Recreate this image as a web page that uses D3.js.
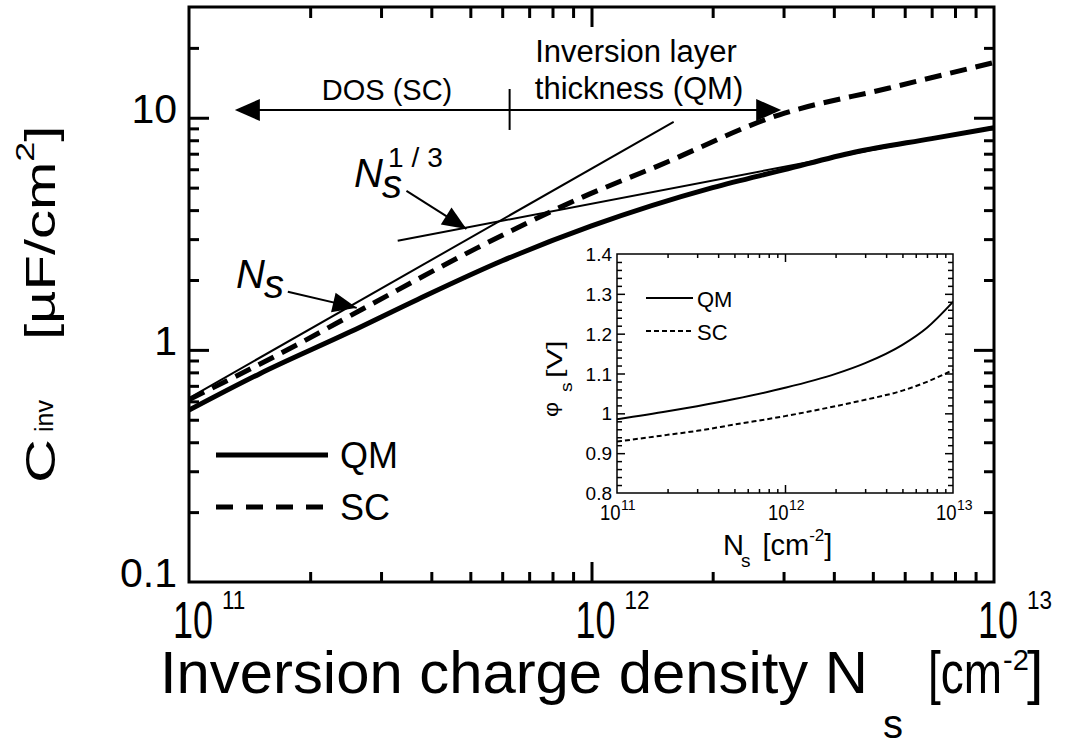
<!DOCTYPE html>
<html>
<head>
<meta charset="utf-8">
<script src="https://cdn.jsdelivr.net/npm/d3@7"></script>
<style>
  body { margin: 0; background: #fff; }
  svg { display: block; }
  text { font-family: "Liberation Sans", Arial, Helvetica, sans-serif; fill: #000; }
</style>
</head>
<body>
<svg id="chart" width="1065" height="749"></svg>
<script>
// ---- data -------------------------------------------------------------
// inversion capacitance C_inv [uF/cm^2] vs inversion charge density N_s [cm^-2]
const nsQM   = [1e11, 1.5e11, 2.5e11, 3.7e11, 6e11, 1e12, 2e12, 3e12, 4.5e12, 7e12, 1e13];
const cinvQM = [0.55, 0.79, 1.19, 1.65, 2.42, 3.42, 5.0, 5.96, 7.1, 8.13, 9.06];
const nsSC   = [1e11, 1.85e11, 2.7e11, 5.2e11, 9.5e11, 1.45e12, 2.93e12, 5.46e12, 1e13];
const cinvSC = [0.61, 1.05, 1.50, 2.75, 4.55, 6.16, 10.3, 13.4, 17.3];

// guide lines: C ~ N_s and C ~ N_s^(1/3)
const nsLin   = [1e11, 1.6e12];
const cinvLin = [0.62, 9.6];
const nsCube   = [3.3e11, 1e13];
const cinvCube = [2.95, 9.15];

// inset: surface potential phi_s [V]
const nsPhi = [1e11, 2e11, 3e11, 5e11, 1e12, 2e12, 3e12, 5e12, 7e12, 1e13];
const phiQM = [0.985, 1.005, 1.018, 1.036, 1.064, 1.099, 1.126, 1.172, 1.215, 1.28];
const phiSC = [0.929, 0.946, 0.956, 0.972, 0.993, 1.018, 1.034, 1.057, 1.079, 1.109];

// axis tick labels
const yTickVals = [0.1, 1, 10];
const yTickText = ["0.1", "1", "10"];
const xTickVals = [1e11, 1e12, 1e13];
const xTickExp  = ["11", "12", "13"];
const insetYVals = [0.8, 0.9, 1.0, 1.1, 1.2, 1.3, 1.4];
const insetYText = ["0.8", "0.9", "1", "1.1", "1.2", "1.3", "1.4"];

// annotation anchors in data units [N_s, C]
const rangeArrow = { left: 1.30e11, right: 2.96e12, level: 10.8, split: 6.26e11, splitTop: 13.3, splitBottom: 8.86 };
const cubeArrow = [[3.47e11, 4.84], [4.89e11, 3.32]];
const linArrow  = [[1.76e11, 1.78], [2.61e11, 1.517]];

// ---- scales -----------------------------------------------------------
const svg = d3.select("#chart");
const F = { left: 189, right: 994, top: 7, bottom: 582 };
const x = d3.scaleLog().domain([1e11, 1e13]).range([F.left, F.right]);
const y = d3.scaleLog().domain([0.1, 30]).range([F.bottom, F.top]);

const I = { left: 617, right: 953, top: 254, bottom: 493 };
const xi = d3.scaleLog().domain([1e11, 1e13]).range([I.left, I.right]);
const yi = d3.scaleLinear().domain([0.8, 1.4]).range([I.bottom, I.top]);

function minorLog(lo, hi) {
  const out = [];
  for (let d = lo; d < hi * 0.999; d *= 10)
    for (let k = 2; k <= 9; k++) { const v = +(k * d).toPrecision(6); if (v < hi * 0.999) out.push(v); }
  return out;
}

// text helper: a group placed at (tx,ty) with independent x/y glyph scaling
function label(parent, tx, ty, sx, sy, rot) {
  const g = parent.append("g")
    .attr("transform", `translate(${tx},${ty})` + (rot ? ` rotate(${rot})` : "") + ` scale(${sx},${sy})`);
  return g.append("text");
}

// ---- main axes ---------------------------------------------------------
const axes = svg.append("g");
function tickRow(gen, tx, ty, vals, size, sw) {
  axes.append("g")
    .attr("transform", `translate(${tx},${ty})`)
    .call(gen.tickValues(vals).tickSize(size).tickFormat(""))
    .call(g => g.select(".domain").remove())
    .selectAll("line").attr("stroke", "#000").attr("stroke-width", sw);
}
const xMinor = minorLog(1e11, 1e13);
const yMinor = minorLog(0.1, 30);
tickRow(d3.axisBottom(x), 0, F.bottom, xMinor, -10, 3);
tickRow(d3.axisBottom(x), 0, F.bottom, [1e12], -20, 3);
tickRow(d3.axisTop(x), 0, F.top, xMinor, -11, 3);
tickRow(d3.axisTop(x), 0, F.top, [1e12], -20, 3);
tickRow(d3.axisLeft(y), F.left, 0, yMinor, -10, 3);
tickRow(d3.axisLeft(y), F.left, 0, [1, 10], -20, 3);
tickRow(d3.axisRight(y), F.right, 0, yMinor, -10, 3);
tickRow(d3.axisRight(y), F.right, 0, [1, 10], -20, 3);

svg.append("rect")
  .attr("x", F.left).attr("y", F.top)
  .attr("width", F.right - F.left).attr("height", F.bottom - F.top)
  .attr("fill", "none").attr("stroke", "#000").attr("stroke-width", 3);

// y tick labels
yTickVals.forEach((v, i) => {
  label(svg, 177, y(v) + 5, 1, 1).attr("text-anchor", "end").attr("font-size", 41).text(yTickText[i]);
});
// x tick labels 10^n
xTickVals.forEach((v, i) => {
  label(svg, x(v) - 16, 638, 1, 1.45).attr("font-size", 36).text("10");
  label(svg, x(v) + 33, 609, 1, 1.12).attr("font-size", 22.5).text(xTickExp[i]);
});

// axis titles
label(svg, 160, 693, 1, 1).attr("font-size", 59)
  .attr("textLength", 708).attr("lengthAdjust", "spacingAndGlyphs")
  .text("Inversion charge density N");
label(svg, 883, 738, 1, 1).attr("font-size", 40).text("s");
label(svg, 928, 693, 1, 1).attr("font-size", 59)
  .attr("textLength", 74).attr("lengthAdjust", "spacingAndGlyphs").text("[cm");
label(svg, 1003, 670, 1, 1).attr("font-size", 29).text("-2");
label(svg, 1027, 693, 1, 1).attr("font-size", 59).text("]");

const yt = label(svg, 55, 483, 1.45, 1, -90).attr("font-size", 42);
yt.append("tspan").text("C");
label(svg, 53, 432, 1.0, 1, -90).attr("font-size", 25).text("inv");
const yt2 = label(svg, 55, 340, 1.38, 1, -90).attr("font-size", 42);
yt2.append("tspan").text("[\u00B5F/cm");
yt2.append("tspan").attr("font-size", 26).attr("dy", -21).text("2");
yt2.append("tspan").attr("dy", 21).text("]");

// ---- curves ------------------------------------------------------------
svg.append("clipPath").attr("id", "plotClip").append("rect")
  .attr("x", F.left).attr("y", F.top).attr("width", F.right - F.left).attr("height", F.bottom - F.top);
const plot = svg.append("g").attr("clip-path", "url(#plotClip)");

const mainLine = d3.line().x(d => x(d[0])).y(d => y(d[1])).curve(d3.curveMonotoneX);
const zip = (a, b) => a.map((v, i) => [v, b[i]]);

plot.append("path").datum(zip(nsLin, cinvLin)).attr("d", mainLine)
  .attr("fill", "none").attr("stroke", "#000").attr("stroke-width", 2);
plot.append("path").datum(zip(nsCube, cinvCube)).attr("d", mainLine)
  .attr("fill", "none").attr("stroke", "#000").attr("stroke-width", 2);
plot.append("path").datum(zip(nsQM, cinvQM)).attr("d", mainLine)
  .attr("fill", "none").attr("stroke", "#000").attr("stroke-width", 5);
plot.append("path").datum(zip(nsSC, cinvSC)).attr("d", mainLine)
  .attr("fill", "none").attr("stroke", "#000").attr("stroke-width", 5)
  .attr("stroke-dasharray", "17,9");

// ---- annotations -------------------------------------------------------
function arrowHead(p, tip, from, len, half) {
  const dx = tip[0] - from[0], dy = tip[1] - from[1];
  const L = Math.hypot(dx, dy), ux = dx / L, uy = dy / L;
  const bx = tip[0] - ux * len, by = tip[1] - uy * len;
  p.append("path")
    .attr("d", `M${tip[0]},${tip[1]}L${bx - uy * half},${by + ux * half}L${bx + uy * half},${by - ux * half}Z`)
    .attr("fill", "#000");
}
const ann = svg.append("g");
const ay = y(rangeArrow.level);
const axL = x(rangeArrow.left), axR = x(rangeArrow.right);
ann.append("line").attr("x1", axL + 10).attr("x2", axR - 10).attr("y1", ay).attr("y2", ay)
  .attr("stroke", "#000").attr("stroke-width", 2);
arrowHead(ann, [axL, ay], [axR, ay], 25, 11);
arrowHead(ann, [axR, ay], [axL, ay], 25, 11);
ann.append("line").attr("x1", x(rangeArrow.split)).attr("x2", x(rangeArrow.split))
  .attr("y1", y(rangeArrow.splitTop)).attr("y2", y(rangeArrow.splitBottom))
  .attr("stroke", "#000").attr("stroke-width", 2);

label(ann, 387, 100, 1, 1).attr("text-anchor", "middle").attr("font-size", 29).text("DOS (SC)");
label(ann, 636, 62, 1, 1).attr("text-anchor", "middle").attr("font-size", 31).text("Inversion layer");
label(ann, 639, 99, 1, 1).attr("text-anchor", "middle").attr("font-size", 31).text("thickness (QM)");

function pointer(pts) {
  const a = [x(pts[0][0]), y(pts[0][1])], b = [x(pts[1][0]), y(pts[1][1])];
  ann.append("line").attr("x1", a[0]).attr("y1", a[1]).attr("x2", b[0]).attr("y2", b[1])
    .attr("stroke", "#000").attr("stroke-width", 2);
  arrowHead(ann, b, a, 24, 10);
}
pointer(cubeArrow);
pointer(linArrow);

// N_s^(1/3) label
label(ann, 354, 187, 1, 1).attr("font-size", 40).attr("font-style", "italic").text("N");
label(ann, 382, 198, 1, 1).attr("font-size", 40).attr("font-style", "italic").text("s");
label(ann, 388, 167, 1, 1).attr("font-size", 28).attr("letter-spacing", 8).text("1/3");
// N_s label
label(ann, 236, 288, 1, 1).attr("font-size", 40).attr("font-style", "italic").text("N");
label(ann, 264, 298, 1, 1).attr("font-size", 40).attr("font-style", "italic").text("s");

// main legend
const leg = svg.append("g");
leg.append("line").attr("x1", 216).attr("x2", 328).attr("y1", 455).attr("y2", 455)
  .attr("stroke", "#000").attr("stroke-width", 5);
leg.append("line").attr("x1", 216).attr("x2", 328).attr("y1", 507).attr("y2", 507)
  .attr("stroke", "#000").attr("stroke-width", 5).attr("stroke-dasharray", "17,13");
label(leg, 340, 468, 1, 1).attr("font-size", 36).text("QM");
label(leg, 340, 520, 1, 1).attr("font-size", 36).text("SC");

// ---- inset -------------------------------------------------------------
const inset = svg.append("g");
inset.append("rect").attr("x", I.left).attr("y", I.top)
  .attr("width", I.right - I.left).attr("height", I.bottom - I.top).attr("fill", "#fff");

function insetTicks(gen, tx, ty, vals, size) {
  inset.append("g").attr("transform", `translate(${tx},${ty})`)
    .call(gen.tickValues(vals).tickSize(size).tickFormat(""))
    .call(g => g.select(".domain").remove())
    .selectAll("line").attr("stroke", "#000").attr("stroke-width", 1.5);
}
const xiMinor = minorLog(1e11, 1e13);
const yiMinor = d3.range(0.82, 1.4, 0.02).map(v => +v.toFixed(2)).filter(v => Math.abs(v * 10 - Math.round(v * 10)) > 1e-6);
const yiMajor = [0.9, 1.0, 1.1, 1.2, 1.3];
insetTicks(d3.axisBottom(xi), 0, I.bottom, xiMinor, -4);
insetTicks(d3.axisBottom(xi), 0, I.bottom, [1e12], -8);
insetTicks(d3.axisTop(xi), 0, I.top, xiMinor, -4);
insetTicks(d3.axisTop(xi), 0, I.top, [1e12], -8);
insetTicks(d3.axisLeft(yi), I.left, 0, yiMinor, -5);
insetTicks(d3.axisLeft(yi), I.left, 0, yiMajor, -8);
insetTicks(d3.axisRight(yi), I.right, 0, yiMinor, -5);
insetTicks(d3.axisRight(yi), I.right, 0, yiMajor, -8);
inset.append("rect").attr("x", I.left).attr("y", I.top)
  .attr("width", I.right - I.left).attr("height", I.bottom - I.top)
  .attr("fill", "none").attr("stroke", "#000").attr("stroke-width", 1.5);

insetYVals.forEach((v, i) => {
  label(inset, 612, yi(v) + 7, 1, 1).attr("text-anchor", "end").attr("font-size", 19).text(insetYText[i]);
});
xTickVals.forEach((v, i) => {
  label(inset, xi(v) - 17, 520, 1, 1.15).attr("font-size", 18.5).text("10");
  label(inset, xi(v) + 4, 510, 1, 1).attr("font-size", 14).text(xTickExp[i]);
});

const ixt = label(inset, 723, 555, 1, 1).attr("font-size", 29);
ixt.append("tspan").text("N");
ixt.append("tspan").attr("font-size", 19).attr("dx", -3).attr("dy", 12).text("s");
ixt.append("tspan").attr("dx", 12).attr("dy", -12).text("[cm");
ixt.append("tspan").attr("font-size", 17).attr("dy", -14).text("-2");
ixt.append("tspan").attr("dy", 14).text("]");

label(inset, 558, 417, 1.1, 1, -90).attr("font-size", 21).text("\u03C6");
label(inset, 572, 392, 1.2, 1, -90).attr("font-size", 16).text("s");
label(inset, 562, 378, 1.4, 1, -90).attr("font-size", 22).text("[V]");

svg.append("clipPath").attr("id", "insetClip").append("rect")
  .attr("x", I.left).attr("y", I.top).attr("width", I.right - I.left).attr("height", I.bottom - I.top);
const ip = inset.append("g").attr("clip-path", "url(#insetClip)");
const insetLine = d3.line().x(d => xi(d[0])).y(d => yi(d[1])).curve(d3.curveMonotoneX);
ip.append("path").datum(zip(nsPhi, phiQM)).attr("d", insetLine)
  .attr("fill", "none").attr("stroke", "#000").attr("stroke-width", 2);
ip.append("path").datum(zip(nsPhi, phiSC)).attr("d", insetLine)
  .attr("fill", "none").attr("stroke", "#000").attr("stroke-width", 2).attr("stroke-dasharray", "5,3");

// inset legend
inset.append("line").attr("x1", 646).attr("x2", 693).attr("y1", 298).attr("y2", 298)
  .attr("stroke", "#000").attr("stroke-width", 2);
inset.append("line").attr("x1", 646).attr("x2", 693).attr("y1", 331).attr("y2", 331)
  .attr("stroke", "#000").attr("stroke-width", 2).attr("stroke-dasharray", "5,3");
label(inset, 697, 307, 1, 1).attr("font-size", 22).text("QM");
label(inset, 697, 340, 1, 1).attr("font-size", 22).text("SC");
</script>
</body>
</html>
